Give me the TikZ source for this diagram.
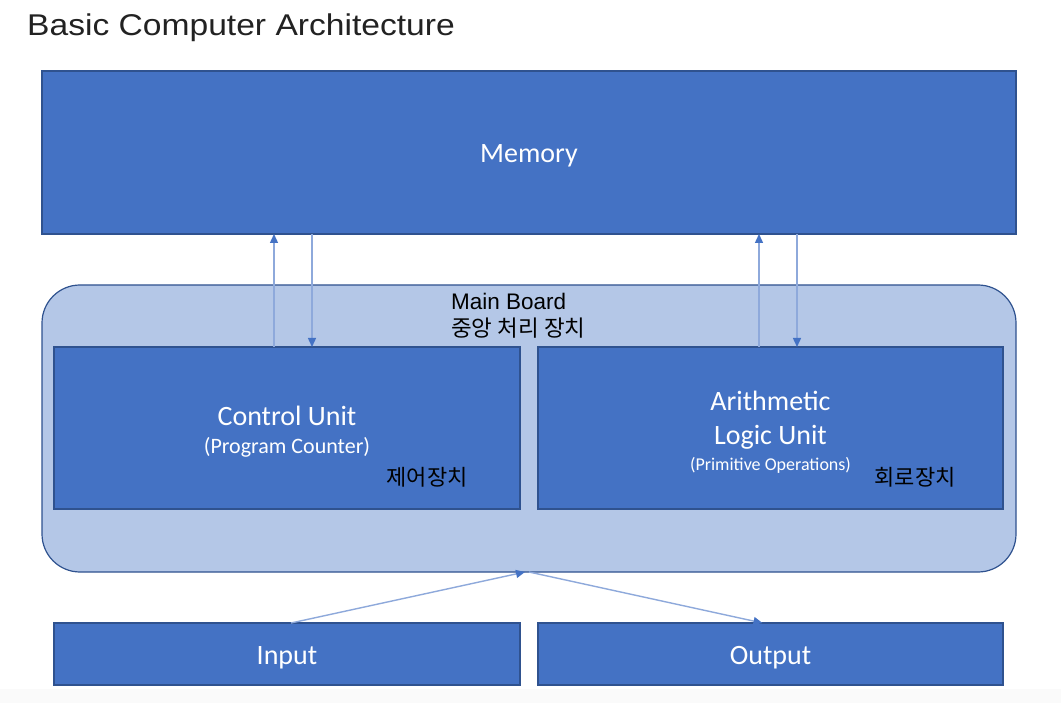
\documentclass[tikz,border=0pt]{standalone}
\usepackage{fontspec}
\setmainfont{Carlito}
\newfontfamily\arialf{Liberation Sans}
\newfontfamily\krf{Noto Sans CJK KR}
\usetikzlibrary{arrows.meta}
\definecolor{boxblue}{HTML}{4472C4}
\definecolor{boxedge}{HTML}{2F528F}
\definecolor{boardfill}{HTML}{B4C7E7}
\definecolor{arrowc}{HTML}{8EA9DB}
\definecolor{titlec}{HTML}{222222}
\tikzset{
  bluebox/.style={draw=boxedge, fill=boxblue, line width=1.2pt, inner sep=0pt, outer sep=0pt},
  boardbox/.style={draw=boxedge, fill=boardfill, line width=1.2pt, rounded corners=38pt, inner sep=0pt, outer sep=0pt},
  wlabel/.style={text=white, inner sep=0pt, font=\fontsize{28}{30}\selectfont},
  wsmall/.style={text=white, inner sep=0pt, font=\fontsize{22}{24}\selectfont},
  wtiny/.style={text=white, inner sep=0pt, font=\fontsize{18}{20}\selectfont},
  krlabel/.style={text=black, inner sep=0pt, font=\krf\fontsize{22}{24}\selectfont},
  conn/.style={draw=arrowc, line width=1.4pt, -{Triangle[length=9pt,width=8pt,color=boxblue]}},
}
\begin{document}
\begin{tikzpicture}[x=1pt,y=-1pt]
\useasboundingbox (0,0) rectangle (1061,703);
\fill[white] (0,0) rectangle (1061,703);
\fill[gray!4] (0,689) rectangle (1061,703);
\node[anchor=base west, inner sep=0pt, text=titlec, font=\arialf\fontsize{30}{32}\selectfont, xscale=1.12] (title) at (27,36) {Basic Computer Architecture};
% memory
\node[bluebox, minimum width=974pt, minimum height=163pt] (mem) at (529,152.5) {};
\node[wlabel] (memt) at (529,156) {Memory};
% main board
\node[boardbox, minimum width=974pt, minimum height=287pt] (board) at (529,428.5) {};
\node[anchor=north west, align=left, inner sep=0pt, font=\fontsize{22.5}{27}\selectfont] (boardt) at (451,293) {{\arialf Main Board}\\{\krf 중앙 처리 장치}};
% control unit
\node[bluebox, minimum width=466pt, minimum height=162pt] (cu) at (287,428) {};
\node[wlabel] (cut) at (287,416) {Control Unit};
\node[wsmall] (cus) at (287,447) {(Program Counter)};
\node[krlabel] (cuk) at (427,477) {제어장치};
% ALU
\node[bluebox, minimum width=465pt, minimum height=162pt] (alu) at (770.5,428) {};
\node[wlabel] (alut1) at (770.5,401) {Arithmetic};
\node[wlabel] (alut2) at (770.5,437) {Logic Unit};
\node[wtiny] (alus) at (770.5,465) {(Primitive Operations)};
\node[krlabel] (aluk) at (915,477) {회로장치};
% input / output
\node[bluebox, minimum width=466pt, minimum height=62pt] (in) at (287,654) {};
\node[wlabel] (int) at (287,658) {Input};
\node[bluebox, minimum width=465pt, minimum height=62pt] (out) at (770.5,654) {};
\node[wlabel] (outt) at (770.5,658) {Output};
% connectors
\draw[conn] ([xshift=-13pt]cu.north) -- ([xshift=-13pt]cu.north |- mem.south);
\draw[conn] ([xshift=25pt]cu.north |- mem.south) -- ([xshift=25pt]cu.north);
\draw[conn] ([xshift=-11.5pt]alu.north) -- ([xshift=-11.5pt]alu.north |- mem.south);
\draw[conn] ([xshift=26.5pt]alu.north |- mem.south) -- ([xshift=26.5pt]alu.north);
\coordinate (bin) at ([xshift=-4pt]board.south);
\coordinate (bout) at ([xshift=0pt]board.south);
\draw[conn] ([xshift=4pt]in.north) -- (bin);
\draw[conn] (bout) -- ([xshift=-8pt]out.north);
\end{tikzpicture}
\end{document}
